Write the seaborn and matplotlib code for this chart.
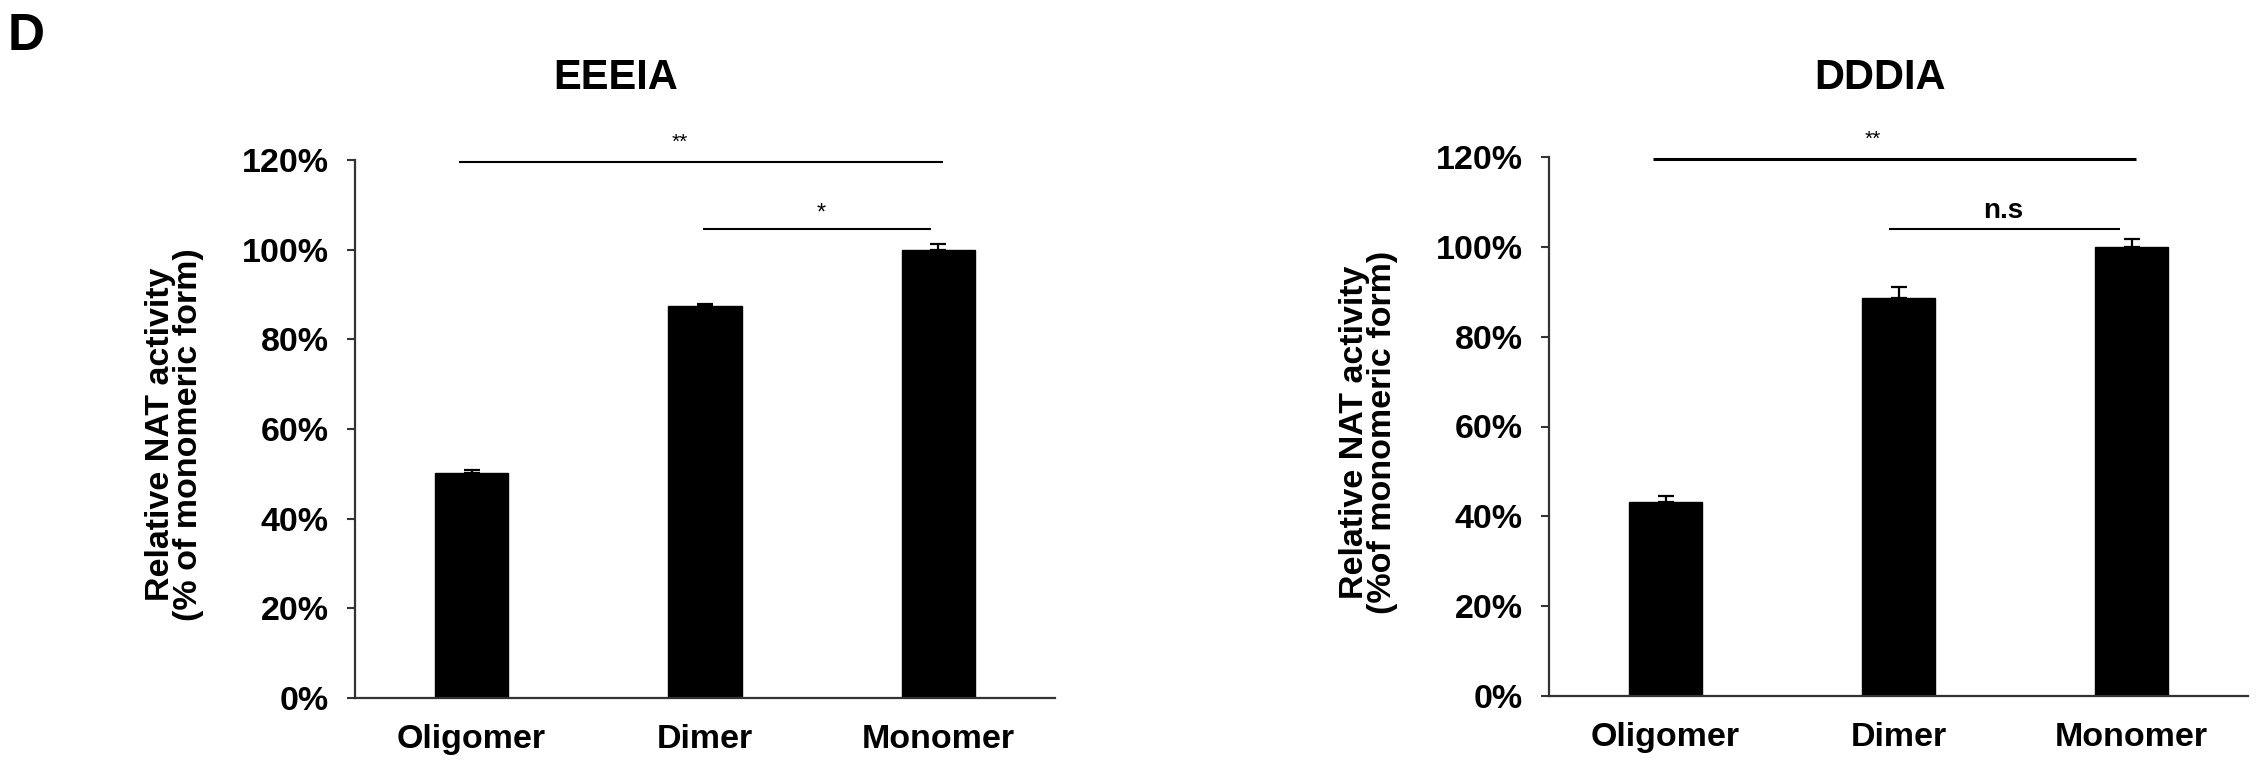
import matplotlib
matplotlib.use("Agg")
import matplotlib.pyplot as plt
import seaborn as sns
import pandas as pd
import numpy as np

# ---------------- data ----------------
categories = ["Oligomer", "Dimer", "Monomer"]
eeeia_values = [0.502, 0.874, 1.000]
eeeia_errors = [0.006, 0.004, 0.013]
dddia_values = [0.432, 0.885, 1.000]
dddia_errors = [0.014, 0.026, 0.017]
ytick_values = [0.0, 0.2, 0.4, 0.6, 0.8, 1.0, 1.2]
ytick_labels = ["0%", "20%", "40%", "60%", "80%", "100%", "120%"]
panel_titles = ["EEEIA", "DDDIA"]
ylabels = ["Relative NAT activity\n(% of monomeric form)",
           "Relative NAT activity\n(%of monomeric form)"]
sig_long = ["**", "**"]
sig_short = ["*", "n.s"]

# ---------------- style ----------------
sns.set_theme(style="white")
plt.rcParams["font.family"] = ["Liberation Sans", "DejaVu Sans"]
plt.rcParams["font.weight"] = "bold"
plt.rcParams["text.color"] = "black"
plt.rcParams["axes.labelcolor"] = "black"
plt.rcParams["xtick.color"] = "black"
plt.rcParams["ytick.color"] = "black"

W, H = 2262, 783
fig = plt.figure(figsize=(W / 100, H / 100), dpi=100)

# axes rectangles in pixels: (left, right, top(120%), bottom(0%))
rects = [(355, 1055, 160, 698), (1549, 2248, 157, 696)]
title_x = [616, 1880]
long_lw = [1.5, 2.2]

for i, (vals, errs) in enumerate([(eeeia_values, eeeia_errors),
                                  (dddia_values, dddia_errors)]):
    l, r, t, b = rects[i]
    ax = fig.add_axes([l / W, 1 - b / H, (r - l) / W, (b - t) / H])
    df = pd.DataFrame({"cat": categories, "val": vals})
    sns.barplot(data=df, x="cat", y="val", color="black", edgecolor="black",
                width=0.313, saturation=1, ax=ax, errorbar=None)
    xs = np.arange(len(categories))
    ax.errorbar(xs, vals, yerr=[np.zeros(len(errs)), errs], fmt="none",
                ecolor="black", elinewidth=1.6, capsize=5.5, capthick=1.6)
    ax.set_xlim(-0.5, 2.5)
    ax.set_ylim(0, 1.2)
    ax.set_yticks(ytick_values)
    ax.set_yticklabels(ytick_labels, fontsize=24.5, fontweight="bold")
    ax.set_xticks(xs)
    ax.set_xticklabels(categories, fontsize=24.5, fontweight="bold")
    ax.tick_params(axis="x", length=0, pad=19, labelcolor="black")
    ax.tick_params(axis="y", length=6, width=1.5, pad=13, color="#333333",
                   direction="out", left=True, labelcolor="black")
    sns.despine(ax=ax)
    for s in ["left", "bottom"]:
        ax.spines[s].set_color("#333333")
        ax.spines[s].set_linewidth(1.6)
    ax.set_xlabel("")
    ax.set_ylabel(ylabels[i], fontsize=24.5, fontweight="bold",
                  linespacing=0.89, va="center", color="black")
    ax.yaxis.set_label_coords(-0.258, 0.49)
    ax.set_facecolor("white")

    # significance brackets
    ax.plot([-0.055, 2.02], [1.195, 1.195], color="black", lw=long_lw[i],
            clip_on=False, solid_capstyle="butt")
    ax.text(0.89, 1.24, sig_long[i], ha="center", va="center",
            fontsize=15, fontweight="normal", clip_on=False, color="black")
    if i == 0:
        ax.plot([0.99, 1.97], [1.046, 1.046], color="black", lw=1.5,
                clip_on=False, solid_capstyle="butt")
        ax.text(1.5, 1.08, sig_short[i], ha="center", va="center",
                fontsize=17, fontweight="normal", color="black")
    else:
        ax.plot([0.96, 1.95], [1.04, 1.04], color="black", lw=1.5,
                clip_on=False, solid_capstyle="butt")
        ax.text(1.45, 1.08, sig_short[i], ha="center", va="center",
                fontsize=20, fontweight="bold", color="black")

    fig.text(title_x[i] / W, 1 - 78 / H, panel_titles[i], ha="center",
             va="center", fontsize=30, fontweight="bold", color="black")

fig.text(8 / W, 1 - 36 / H, "D", ha="left", va="center", fontsize=37,
         fontweight="bold", color="black")

fig.savefig("out.png", dpi=100, facecolor="white")
